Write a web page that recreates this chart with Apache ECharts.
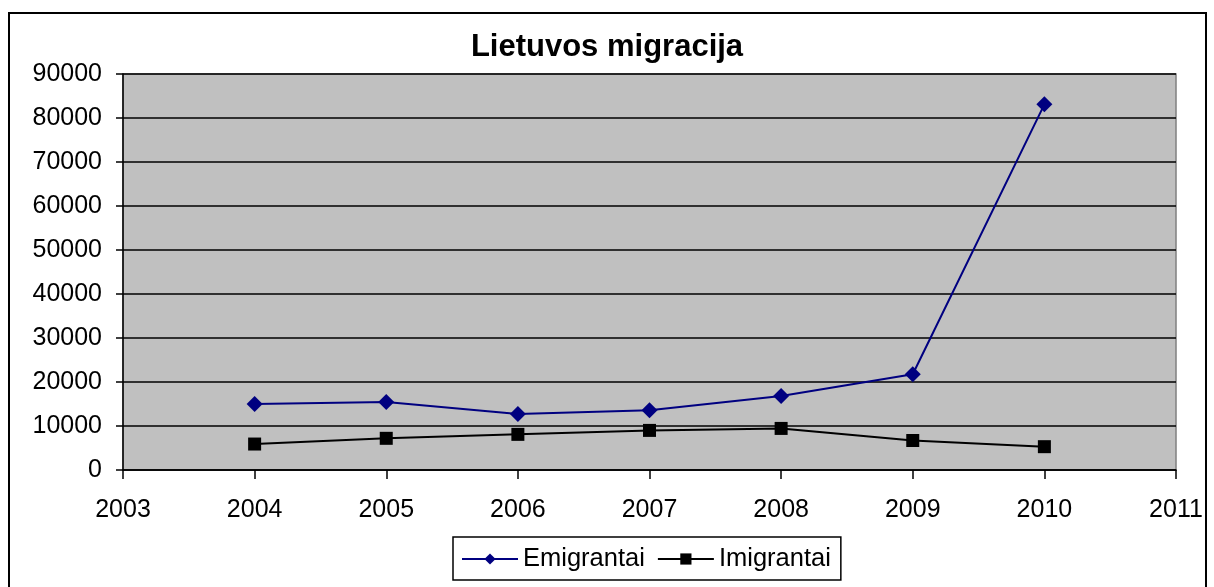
<!DOCTYPE html>
<html lang="lt">
<head>
    <meta charset="UTF-8">
    <title>Lietuvos migracija</title>
    <script src="https://cdn.jsdelivr.net/npm/echarts@6/dist/echarts.min.js"></script>
    <style>
        html, body { margin: 0; padding: 0; background: #fff; }
        #main { width: 1214px; height: 587px; }
    </style>
</head>
<body>
    <div id="main"></div>
    <script type="text/javascript">
        // duomenys
        const metai = [2004, 2005, 2006, 2007, 2008, 2009, 2010];
        const emigrantai = [15000, 15450, 12700, 13600, 16800, 21750, 83100];
        const imigrantai = [5900, 7200, 8100, 9000, 9450, 6700, 5300];

        const pora = (vals) => metai.map((m, i) => [m, vals[i]]);

        var grafikas = echarts.init(document.getElementById('main'));
        var option = {
            animation: false,
            textStyle: { fontFamily: 'Liberation Sans, Arial, sans-serif' },
            graphic: [{
                type: 'rect',
                shape: { x: 9, y: 13, width: 1197, height: 590 },
                style: { fill: 'none', stroke: '#000', lineWidth: 2 },
                silent: true
            }],
            title: {
                text: 'Lietuvos migracija',
                left: 'center',
                top: 27,
                textStyle: { fontSize: 31, fontWeight: 'bold', color: '#000', fontFamily: 'Liberation Sans, Arial, sans-serif' }
            },
            legend: {
                left: 453,
                top: 537,
                padding: [9, 10, 8, 8],
                borderColor: '#000',
                borderWidth: 1.5,
                itemWidth: 56,
                itemHeight: 14,
                itemGap: 12,
                textStyle: { fontSize: 25.5, color: '#000' },
                data: ['Emigrantai', 'Imigrantai']
            },
            grid: {
                show: true,
                left: 123,
                top: 74,
                right: 38,
                bottom: 117,
                backgroundColor: '#c0c0c0',
                borderColor: '#808080',
                borderWidth: 1.5
            },
            xAxis: {
                type: 'value',
                min: 2003,
                max: 2011,
                interval: 1,
                axisLine: { lineStyle: { color: '#000', width: 1.5 } },
                axisTick: { show: true, length: 9, lineStyle: { color: '#000', width: 1.5 } },
                axisLabel: { fontSize: 25, color: '#000', margin: 28, formatter: (v) => String(v) },
                splitLine: { show: false }
            },
            yAxis: {
                type: 'value',
                min: 0,
                max: 90000,
                interval: 10000,
                axisLine: { show: true, lineStyle: { color: '#000', width: 1.5 } },
                axisTick: { show: true, length: 7, lineStyle: { color: '#000', width: 1.5 } },
                axisLabel: { fontSize: 25, color: '#000', margin: 21, formatter: (v) => String(v) },
                splitLine: { show: true, lineStyle: { color: '#000', width: 1.5 } }
            },
            series: [
                {
                    name: 'Emigrantai',
                    type: 'line',
                    data: pora(emigrantai),
                    symbol: 'diamond',
                    symbolSize: 16,
                    itemStyle: { color: '#000080' },
                    lineStyle: { color: '#000080', width: 2 }
                },
                {
                    name: 'Imigrantai',
                    type: 'line',
                    data: pora(imigrantai),
                    symbol: 'rect',
                    symbolSize: 13,
                    itemStyle: { color: '#000' },
                    lineStyle: { color: '#000', width: 2 }
                }
            ]
        };
        grafikas.setOption(option);
    </script>
</body>
</html>
